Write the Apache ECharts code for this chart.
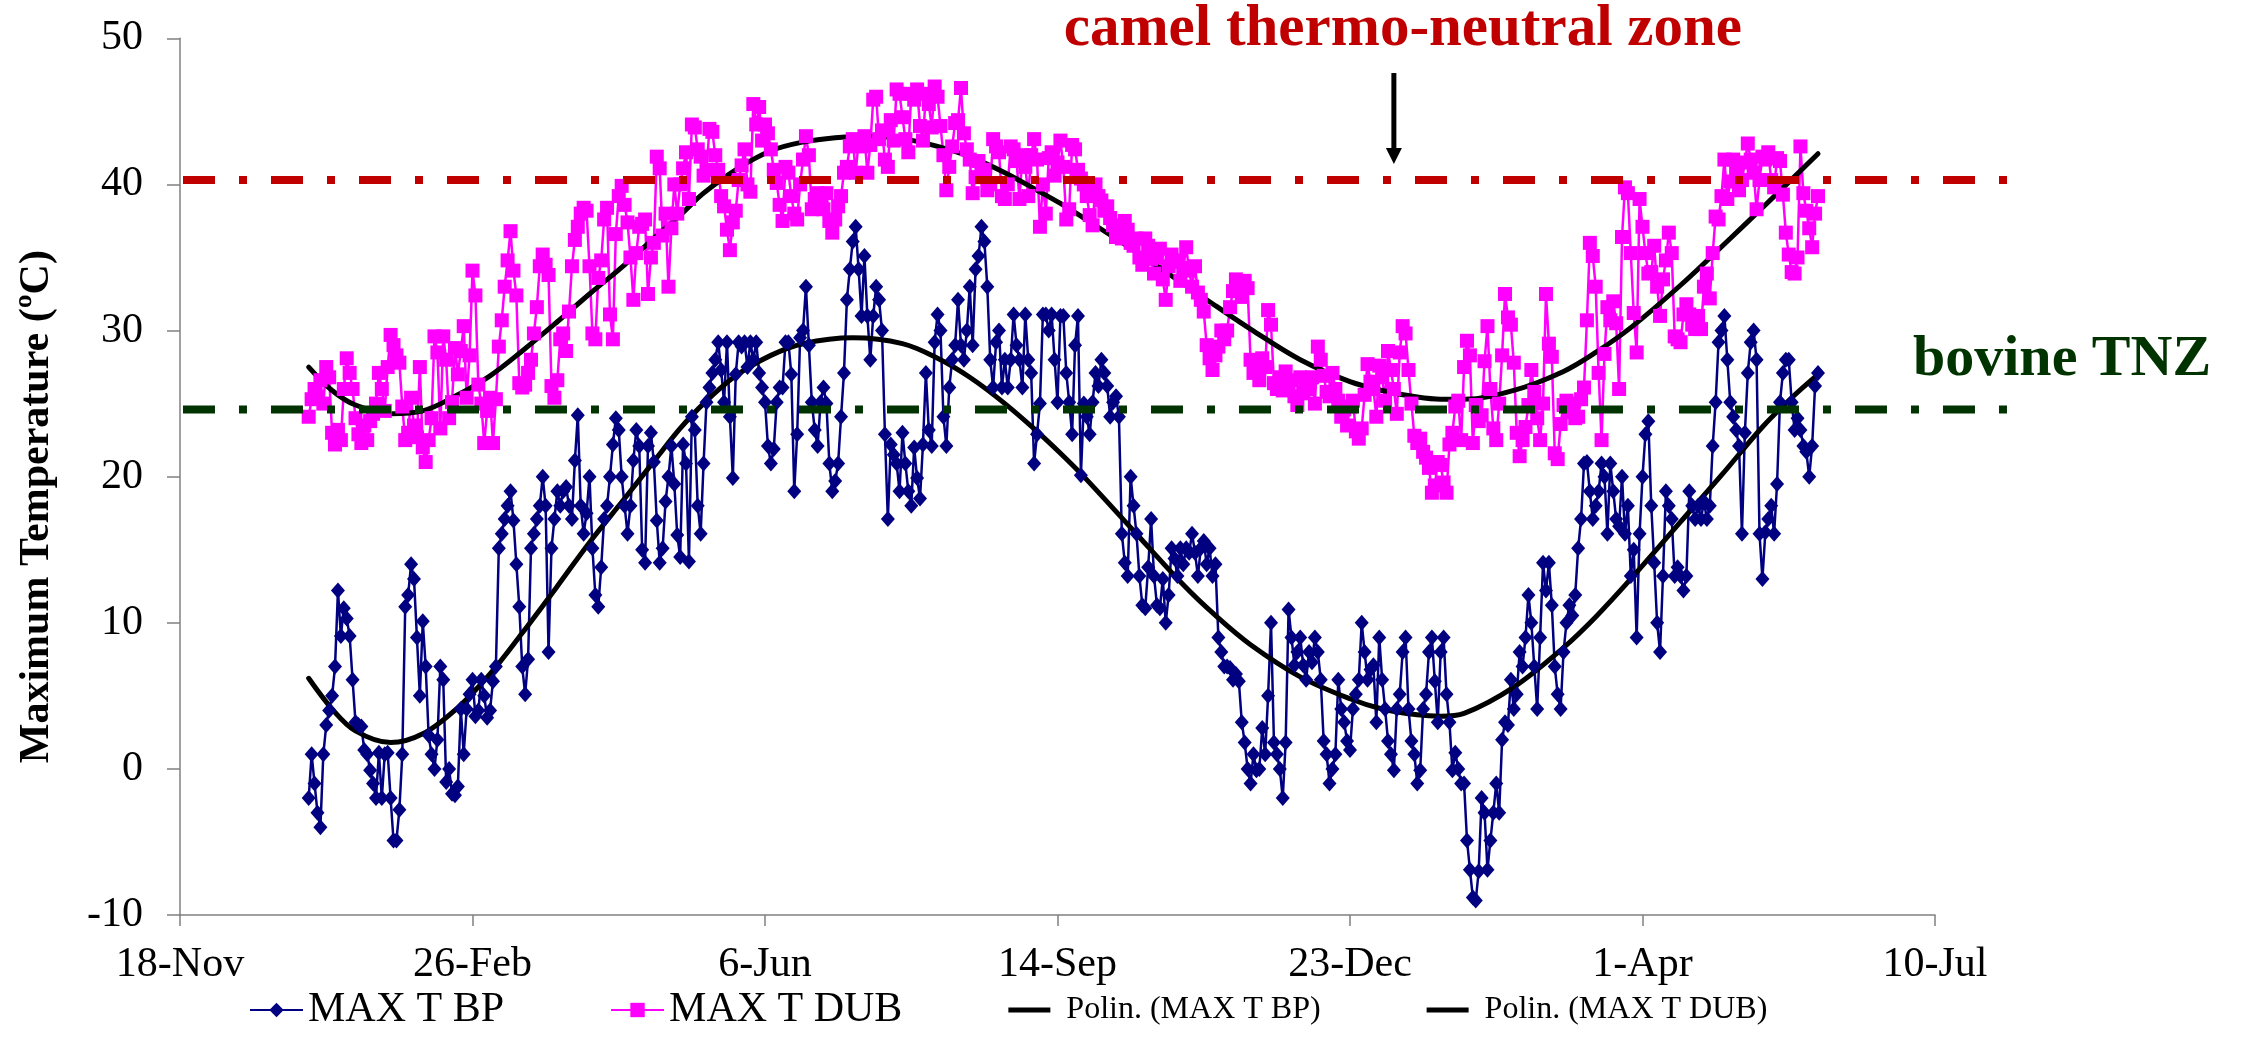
<!DOCTYPE html>
<html>
<head>
<meta charset="utf-8">
<script src="https://cdn.jsdelivr.net/npm/echarts@6/dist/echarts.min.js"></script>
<style>
  html, body { margin: 0; padding: 0; background: #ffffff; }
  #chart { width: 2241px; height: 1063px; }
</style>
</head>
<body>
<div id="chart"></div>
<script>
// Daily maximum temperatures, one value per day from 1 Jan 2007 to 31 May 2008
const firstDay = [2007, 0, 1];
const axisOrigin = [2006, 10, 18];
const xTickLabels = ['18-Nov', '26-Feb', '6-Jun', '14-Sep', '23-Dec', '1-Apr', '10-Jul'];
const seriesNames = ['MAX T BP', 'MAX T DUB', 'Polin. (MAX T BP)', 'Polin. (MAX T DUB)'];

const maxTBP = [
  -2.0, 1.0, -1.0, -3.0, -4.0, 1.0, 3.0, 4.0, 5.0, 7.0, 12.2, 9.1, 11.0, 10.3, 9.1, 6.1,
  3.2, 3.0, 2.9, 1.3, 1.0, -0.1, -1.0, -2.0, 1.1, -2.0, 1.0, 1.1, -2.0, -4.9, -4.9, -2.8,
  1.0, 11.1, 11.9, 14.0, 13.0, 9.0, 5.0, 10.1, 7.0, 2.3, 1.0, 0.0, 2.0, 7.0, 6.1, -0.9,
  0.0, -1.7, -1.8, -1.2, 4.1, 1.0, 4.1, 5.1, 6.1, 3.6, 4.0, 6.1, 5.0, 3.5, 4.0, 6.0,
  7.0, 15.1, 16.1, 17.1, 18.0, 19.0, 17.0, 14.0, 11.1, 7.0, 5.1, 7.5, 15.1, 16.1, 17.1, 18.0,
  20.0, 18.0, 8.0, 15.1, 17.1, 19.0, 18.0, 19.0, 19.3, 18.0, 17.1, 21.1, 24.2, 18.0, 16.1, 17.5,
  20.0, 15.1, 11.9, 11.1, 13.8, 17.1, 18.0, 20.0, 22.2, 24.0, 23.2, 20.0, 18.0, 16.1, 18.0, 21.1,
  23.2, 22.1, 15.0, 14.1, 22.1, 23.0, 21.0, 17.0, 14.1, 15.1, 18.3, 20.0, 22.1, 19.5, 16.0,
  14.5, 22.2, 20.9, 14.2, 24.1, 23.2, 18.0, 16.1, 20.9, 25.1, 26.1, 27.1, 28.0, 29.2, 27.3, 25.1,
  29.2, 24.1, 19.9, 27.0, 29.2, 28.9, 29.2, 27.5, 29.2, 28.0, 29.2, 27.1, 26.1, 25.1, 22.1, 20.9,
  21.9, 25.1, 26.1, 26.1, 29.2, 29.2, 27.0, 19.0, 22.9, 29.5, 30.0, 33.0, 29.0, 25.1, 23.2, 22.1,
  25.1, 26.1, 25.0, 20.9, 19.0, 19.7, 20.9, 24.1, 27.1, 32.1, 34.2, 36.1, 37.1, 34.2, 31.0, 35.1,
  31.0, 28.0, 31.0, 33.0, 32.1, 30.0, 22.9, 17.1, 22.2, 21.5, 20.9, 19.0, 23.0, 20.9, 19.0, 18.0,
  22.0, 19.9, 18.5, 22.2, 27.1, 23.2, 22.1, 29.2, 31.1, 30.0, 24.1, 22.1, 26.1, 28.0, 29.0, 32.1,
  29.0, 28.0, 30.0, 33.0, 29.0, 34.2, 35.1, 37.1, 36.1, 33.0, 28.0, 26.1, 29.2, 30.0, 26.1, 28.0,
  26.1, 28.0, 31.1, 29.0, 28.0, 26.1, 31.1, 28.0, 27.1, 20.9, 22.9, 25.0, 31.1, 31.1, 30.0, 31.1,
  28.0, 25.1,
  31.0, 31.0, 27.1, 25.1, 22.9, 29.0, 31.0, 20.1, 25.0, 24.1, 22.9, 25.1, 27.1, 26.2, 28.0, 27.1,
  26.2, 24.1, 25.1, 25.5, 24.1, 16.1, 14.1, 13.2, 20.0, 18.0, 16.1, 13.2, 11.2, 11.0, 13.8, 17.1,
  13.2, 11.2, 11.0, 13.0, 10.0, 11.9, 15.1, 14.4, 13.2, 15.1, 14.0, 15.1, 14.8, 16.1, 14.8, 13.2,
  15.1, 15.6, 14.0, 15.1, 13.2, 14.0, 9.0, 8.0, 7.0, 7.0, 6.9, 6.1, 6.5, 6.0, 3.2, 1.8,
  0.0, -1.0, 1.0, -0.1, 0.0, 2.8, 1.0, 5.0, 10.0, 1.8, 1.0, 0.0, -2.0, 1.8, 10.9, 9.0,
  7.1, 8.0, 9.0, 7.1, 6.1, 8.0, 7.3, 9.0, 8.0, 6.1, 1.9, 1.0, -1.0, 0.0, 1.0, 6.1,
  4.1, 3.2, 1.9, 1.3, 4.1, 5.1, 6.1, 10.0, 8.0, 6.1, 6.8, 7.1, 3.2, 9.0, 6.1, 4.1,
  1.9, 1.0, -0.1, 4.1, 5.1, 8.0, 9.0, 4.1, 1.9, 1.0, -1.0, -0.1, 4.1, 5.1, 8.0, 9.0,
  6.0, 3.2,
  8.0, 9.0, 5.1, 3.2, -0.1, 1.1, 0.0, -1.0, -1.0, -4.9, -6.9, -8.8, -9.0, -7.0, -2.0, -3.0,
  -6.9, -4.9, -3.0, -1.0, -3.0, 2.0, 3.2, 3.0, 6.1, 4.1, 5.1, 8.0, 7.0, 9.0, 11.9, 10.0,
  7.0, 4.1, 9.0, 14.1, 12.2, 14.1, 11.2, 7.0, 5.1, 4.1, 8.0, 10.0, 11.2, 10.5, 11.9, 15.1,
  17.1, 20.9, 21.0, 19.0, 17.1, 18.0, 19.0, 20.9, 20.0, 16.1, 20.9, 19.0, 17.1, 16.6, 20.0, 16.1,
  18.0, 13.2, 15.0, 9.0, 16.1, 20.0, 22.9, 23.8, 18.0, 14.1, 10.0, 8.0, 13.2, 19.0, 18.0, 17.1,
  13.2, 13.8, 13.2, 12.2, 13.2, 19.0, 18.0, 17.1, 18.0, 17.1, 18.3, 17.1, 18.0, 22.1, 25.1, 29.2,
  30.0, 31.0, 28.0, 25.1, 24.1, 23.2, 22.1, 16.1, 23.0, 27.1, 29.2, 30.0, 28.0, 16.1, 13.0, 16.2,
  17.1, 18.0, 16.1, 19.5, 25.1, 27.1, 28.0, 28.0, 25.1, 23.2, 24.0, 23.2, 22.1, 21.7, 20.0, 22.1,
  26.2, 27.1
];

const maxTDUB = [
  24.1, 25.3, 26.0, 25.4, 26.6, 25.0, 27.5, 26.8, 23.0, 22.2, 23.2, 22.5, 26.0, 28.1, 27.1, 26.0,
  24.0, 22.9, 22.3, 23.5, 22.5, 23.8, 24.3, 25.0, 27.1, 26.0, 24.5, 27.5, 29.7, 29.0, 28.3, 27.8,
  24.8, 22.5, 23.0, 25.4, 23.5, 22.7, 27.5, 22.0, 21.0, 22.5, 24.0, 29.6, 28.5, 23.3, 29.6, 28.0,
  24.0, 25.1, 28.8, 27.0, 28.6, 30.3, 25.4, 28.3, 34.1, 32.4, 26.3, 25.0, 22.3, 24.5, 25.4, 22.3,
  25.3, 28.9, 30.7, 33.0, 34.8, 36.8, 34.1, 32.4, 26.4, 26.1, 26.3, 27.1, 28.0, 29.8, 31.6, 34.4,
  35.2, 34.5, 33.8, 26.2, 25.4, 26.6, 29.4, 29.8, 28.6, 31.3, 34.4, 36.2, 37.1, 38.0, 38.4, 38.2,
  34.4, 29.8, 29.4, 33.6, 34.8, 37.6, 38.4, 31.1, 29.4, 36.6, 39.2, 39.9, 38.6, 37.4, 35.0, 32.1,
  35.3, 37.1, 37.3, 37.6, 32.5, 35.0, 36.0, 41.9, 41.1, 36.5, 38.0, 33.0, 37.0, 40.0, 38.0,
  40.0, 41.1, 42.2, 39.0, 44.1, 43.9, 42.4, 41.9, 40.6, 41.0, 43.8, 43.6, 42.0, 41.0, 39.2, 38.5,
  36.9, 35.5, 37.4, 38.2, 40.3, 41.3, 42.4, 40.0, 39.5, 45.5, 44.1, 45.3, 43.0, 44.1, 43.5, 42.4,
  41.0, 40.1, 38.6, 37.5, 41.2, 40.8, 39.2, 38.0, 37.6, 40.0, 41.7, 43.3, 42.0, 38.3, 39.0, 39.4,
  39.0, 38.3, 39.4, 37.5, 36.7, 37.6, 38.5, 39.2, 40.8, 41.2, 42.6, 43.1, 40.8, 42.9, 42.6, 43.3,
  40.8, 42.7, 45.8, 46.0, 43.1, 43.7, 41.7, 41.2, 44.4, 43.0, 46.5, 46.2, 44.6, 43.1, 42.2, 46.2,
  45.8, 46.5, 44.0, 43.0, 46.2, 45.5, 43.9, 46.7, 46.0, 44.0, 42.0, 39.6, 41.2, 42.6, 44.2, 44.4,
  46.6, 43.5, 42.4, 41.7, 39.4, 40.5, 41.6, 40.8, 41.0, 39.6, 40.0, 43.1, 42.6, 42.2, 39.2, 39.0,
  40.0, 42.6, 42.4, 41.6, 39.0, 42.0, 41.2, 39.2, 42.0, 43.1, 41.7, 37.1, 40.0, 38.0, 41.8, 42.2,
  40.6, 41.5,
  43.0, 41.2, 37.6, 38.3, 42.7, 42.4, 41.0, 40.4, 40.0, 39.2, 37.9, 37.2, 40.0, 39.2, 38.9, 38.2,
  38.5, 37.7, 37.2, 36.4, 37.0, 36.3, 37.5, 36.9, 36.0, 35.8, 36.3, 35.0, 34.5, 36.3, 35.8, 34.9,
  33.9, 35.0, 35.6, 33.5, 32.1, 34.4, 35.2, 34.7, 34.8, 33.4, 34.3, 35.7, 34.1, 33.0, 34.4, 32.6,
  32.1, 31.3, 29.0, 28.1, 27.3, 28.3, 28.9, 30.0, 29.4, 30.0, 31.6, 32.7, 33.5, 33.1, 32.3, 33.4,
  32.9, 28.0, 27.1, 27.5, 26.6, 28.1, 27.5, 31.4, 30.4, 26.4, 26.0, 26.8, 25.9, 27.2, 26.0, 26.6,
  25.5, 24.9, 26.8, 25.7, 26.0, 26.4, 26.8, 25.0, 28.9, 28.0, 26.9, 25.8, 25.5, 27.1, 26.0, 25.2,
  24.1, 24.6, 23.5, 24.8, 25.2, 23.1, 22.6, 23.3, 25.6, 27.7, 26.5, 26.0, 24.1, 27.6, 26.8, 25.2,
  28.6, 27.3, 26.0, 24.3, 28.5, 30.3, 29.8, 27.3, 25.0, 22.8, 22.3, 22.6, 21.7, 21.3, 20.6, 18.9,
  19.4, 21.0,
  20.8, 19.6, 18.9, 22.2, 23.0, 24.8, 25.2, 22.5, 27.5, 29.3, 28.3, 22.3, 24.9, 23.8, 24.2, 27.9,
  30.3, 26.0, 23.3, 22.5, 25.0, 28.3, 32.5, 30.9, 30.4, 27.8, 23.0, 21.4, 22.5, 23.4, 24.9, 27.3,
  25.8, 24.0, 22.5, 25.0, 32.5, 29.1, 28.2, 21.6, 21.2, 23.6, 24.9, 25.2, 24.4, 25.0, 24.0, 24.1,
  25.3, 26.1, 30.7, 36.0, 35.1, 33.0, 27.1, 22.5, 28.4, 31.6, 30.7, 32.0, 30.5, 26.0, 36.4, 39.8,
  39.4, 35.3, 31.2, 28.5, 39.0, 37.1, 35.3, 33.9, 34.0, 35.8, 33.0, 31.0, 33.5, 34.8, 36.7, 35.3,
  29.6, 29.4, 29.2, 31.1, 31.8, 31.1, 30.4, 30.1, 31.0, 30.1, 33.0, 33.9, 32.2, 35.3, 37.8, 37.6,
  39.2, 41.7, 39.0, 40.2, 41.7, 41.0, 39.6, 40.3, 41.5, 42.8, 41.7, 40.8, 38.3, 40.3, 41.9, 41.7,
  42.2, 40.3, 39.8, 41.8, 41.6, 39.3, 36.7, 35.2, 34.0, 33.9, 35.0, 42.6, 39.4, 38.2, 37.0, 35.7,
  38.0, 39.2
];

// Polynomial trend lines, sampled along each curve (day index from 1 Jan 2007, ºC)
const trendDaysBP = [0, 8, 16, 28, 39, 51, 62, 73, 85, 96, 108, 119, 127, 135, 146, 158, 169, 186,
  203, 215, 226, 238, 249, 257, 265, 282, 299, 310, 322, 339, 356, 367, 379, 387, 395, 412, 429,
  440, 452, 469, 483, 497, 507, 516];
const trendBP = [6.2, 4.1, 2.6, 1.8, 2.4, 4.2, 6.5, 9.3, 12.5, 15.5, 18.5, 21.3, 23.3, 25.0, 26.9,
  28.3, 29.1, 29.5, 29.1, 28.1, 26.8, 25.0, 23.1, 21.6, 20.0, 16.3, 12.6, 10.5, 8.5, 6.3, 4.8, 4.1,
  3.7, 3.6, 3.8, 5.6, 8.3, 10.4, 13.0, 16.9, 20.1, 23.4, 25.4, 27.0];
const trendDaysDUB = [0, 8, 16, 28, 39, 51, 62, 73, 85, 96, 108, 119, 127, 135, 146, 158, 169, 180,
  192, 204, 215, 226, 238, 249, 257, 265, 282, 299, 310, 322, 339, 356, 367, 379, 387, 395, 412,
  429, 440, 452, 469, 486, 497, 516];
const trendDUB = [27.5, 25.9, 24.9, 24.3, 24.5, 25.6, 26.9, 28.6, 30.6, 32.5, 34.5, 36.5, 37.9,
  39.4, 41.0, 42.3, 42.9, 43.2, 43.3, 43.1, 42.6, 41.9, 40.8, 39.6, 38.7, 37.7, 35.5, 33.2, 31.7,
  30.1, 28.0, 26.5, 25.9, 25.45, 25.3, 25.3, 25.9, 27.2, 28.5, 30.2, 33.1, 36.3, 38.4, 42.1];

// Drawn reference levels (ºC)
const camelTNZ = 40.3;
const bovineTNZ = 24.6;

const DAY = 86400000;
const firstOffset = Math.round((Date.UTC(...firstDay) - Date.UTC(...axisOrigin)) / DAY);

const bpPts = maxTBP.map((v, i) => [firstOffset + i, v]);
const dubPts = maxTDUB.map((v, i) => [firstOffset + i, v]);
const bpTrendPts = trendBP.map((v, k) => [firstOffset + trendDaysBP[k], v]);
const dubTrendPts = trendDUB.map((v, k) => [firstOffset + trendDaysDUB[k], v]);

const SERIF = '"Liberation Serif", "Times New Roman", serif';
const chart = echarts.init(document.getElementById('chart'), null, { renderer: 'canvas' });

const trendIcon = 'path://M0,0H42V5H0Z M53,0L53,5';

chart.setOption({
  animation: false,
  backgroundColor: '#ffffff',
  grid: { left: 180, right: 306, top: 38.3, bottom: 148, containLabel: false },
  xAxis: {
    type: 'value', min: 0, max: 600, interval: 100,
    axisLine: { show: true, onZero: false, lineStyle: { color: '#808080', width: 1.5 } },
    axisTick: { show: true, length: 11, lineStyle: { color: '#808080', width: 1.5 } },
    axisLabel: {
      show: true, margin: 29, color: '#000', fontFamily: SERIF, fontSize: 42,
      showMinLabel: true, showMaxLabel: true,
      formatter: v => xTickLabels[Math.round(v / 100)]
    },
    splitLine: { show: false }
  },
  yAxis: {
    type: 'value', min: -10, max: 50, interval: 10,
    axisLine: { show: true, onZero: false, lineStyle: { color: '#808080', width: 1.5 } },
    axisTick: { show: true, length: 13, lineStyle: { color: '#808080', width: 1.5 } },
    axisLabel: { show: true, margin: 37, color: '#000', fontFamily: SERIF, fontSize: 42,
      showMinLabel: true, showMaxLabel: true },
    splitLine: { show: false }
  },
  legend: {
    left: 249, top: 989, padding: 0, itemGap: 106, itemWidth: 53, itemHeight: 18,
    textStyle: { fontFamily: SERIF, color: '#000', fontSize: 42, lineHeight: 42 },
    data: [
      { name: seriesNames[0] },
      { name: seriesNames[1] },
      { name: seriesNames[2], icon: trendIcon, itemStyle: { color: '#000', borderWidth: 0 },
        textStyle: { fontSize: 32, lineHeight: 32 } },
      { name: seriesNames[3], icon: trendIcon, itemStyle: { color: '#000', borderWidth: 0 },
        textStyle: { fontSize: 32, lineHeight: 32 } }
    ]
  },
  series: [
    {
      name: seriesNames[0], type: 'line', data: bpPts,
      symbol: 'diamond', symbolSize: [14, 16], showAllSymbol: true,
      lineStyle: { color: '#000080', width: 2.5 },
      itemStyle: { color: '#000080', borderWidth: 0 },
      emphasis: { disabled: true }
    },
    {
      name: seriesNames[1], type: 'line', data: dubPts,
      symbol: 'rect', symbolSize: 14, showAllSymbol: true,
      lineStyle: { color: '#FF00FF', width: 2.5 },
      itemStyle: { color: '#FF00FF', borderWidth: 0 },
      emphasis: { disabled: true }
    },
    {
      name: seriesNames[2], type: 'line', data: bpTrendPts, symbol: 'none', smooth: 0.35,
      lineStyle: { color: '#000000', width: 5, cap: 'round' },
      itemStyle: { color: '#000000' }, emphasis: { disabled: true }
    },
    {
      name: seriesNames[3], type: 'line', data: dubTrendPts, symbol: 'none', smooth: 0.35,
      lineStyle: { color: '#000000', width: 5, cap: 'round' },
      itemStyle: { color: '#000000' }, emphasis: { disabled: true }
    }
  ]
});

// Annotations: threshold lines, arrow and labels, placed from the axis scales
const yCamel = chart.convertToPixel({ yAxisIndex: 0 }, camelTNZ);
const yBovine = chart.convertToPixel({ yAxisIndex: 0 }, bovineTNZ);
const xStart = chart.convertToPixel({ xAxisIndex: 0 }, 0) + 3;
const xEnd = chart.convertToPixel({ xAxisIndex: 0 }, 600) + 72;
const xArrow = chart.convertToPixel({ xAxisIndex: 0 }, 415);
const yTop = chart.convertToPixel({ yAxisIndex: 0 }, 50);
const yBottom = chart.convertToPixel({ yAxisIndex: 0 }, -10);
const dashDot = [32, 24, 8, 24];

chart.setOption({
  graphic: [
    { type: 'line', z: 100, silent: true,
      shape: { x1: xStart, y1: yCamel, x2: xEnd, y2: yCamel },
      style: { stroke: '#C00000', lineWidth: 8, lineDash: dashDot } },
    { type: 'line', z: 100, silent: true,
      shape: { x1: xStart, y1: yBovine, x2: xEnd, y2: yBovine },
      style: { stroke: '#003300', lineWidth: 8, lineDash: dashDot } },
    { type: 'line', z: 100, silent: true,
      shape: { x1: xArrow, y1: yCamel - 107, x2: xArrow, y2: yCamel - 30 },
      style: { stroke: '#000000', lineWidth: 5 } },
    { type: 'polygon', z: 100, silent: true,
      shape: { points: [[xArrow - 8, yCamel - 32], [xArrow + 8, yCamel - 32], [xArrow, yCamel - 16]] },
      style: { fill: '#000000' } },
    { type: 'text', z: 100, silent: true, x: xArrow + 9, y: 30,
      style: { text: 'camel thermo-neutral zone', fill: '#C00000',
        font: 'bold 59px ' + SERIF, align: 'center', verticalAlign: 'middle' } },
    { type: 'text', z: 100, silent: true, x: 1913, y: yBovine - 49,
      style: { text: 'bovine TNZ', fill: '#003300',
        font: 'bold 58px ' + SERIF, align: 'left', verticalAlign: 'middle' } },
    { type: 'text', z: 100, silent: true, x: 37, y: (yTop + yBottom) / 2 + 30, rotation: Math.PI / 2,
      style: { text: 'Maximum Temperature (ºC)', fill: '#000000',
        font: 'bold 42px ' + SERIF, align: 'center', verticalAlign: 'middle' } }
  ]
});
</script>
</body>
</html>
